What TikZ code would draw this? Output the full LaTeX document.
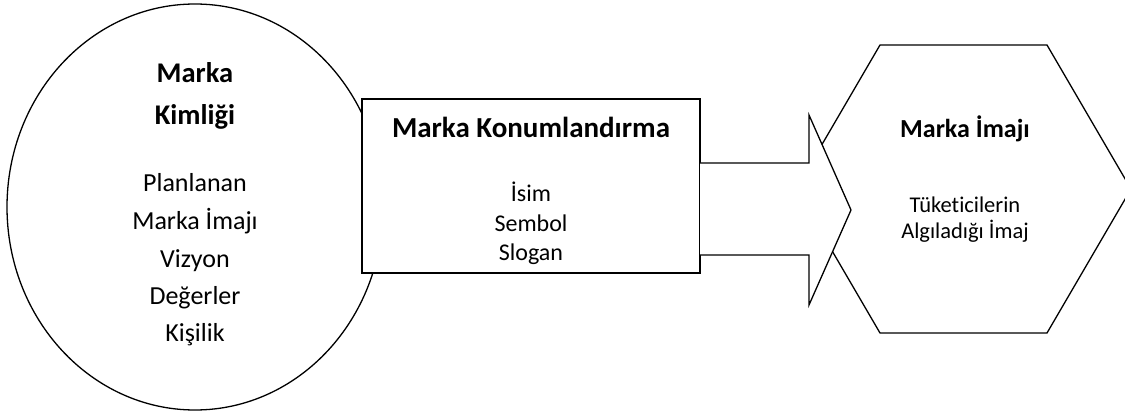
\documentclass[tikz,border=0pt]{standalone}
\usepackage{fontspec}
\setmainfont{Carlito}[Ligatures={NoCommon}]
\usetikzlibrary{shapes.geometric}
\begin{document}
\begin{tikzpicture}[x=1pt,y=-1pt,line width=1.3pt,
  shapebox/.style={draw=black,fill=white,line width=1.3pt},
  txt/.style={anchor=base,inner sep=0pt},
  ttl/.style={txt,font=\bfseries\fontsize{29}{31}\selectfont},
  bodyA/.style={txt,font=\fontsize{26}{28}\selectfont},
  bodyB/.style={txt,font=\fontsize{24}{26}\selectfont},
  bodyC/.style={txt,font=\fontsize{22.5}{24}\selectfont}]
\useasboundingbox (0,0) rectangle (1125,417);
% identity ellipse
\node[shapebox,ellipse,minimum width=376pt,minimum height=406pt,inner sep=0pt] (kimlik) at (195,207) {};
% image hexagon
\coordinate (hl) at (796,189);
\coordinate (ht1) at (880,45);
\coordinate (ht2) at (1047,45);
\coordinate (hr) at (1131,189);
\coordinate (hb2) at (1047,333);
\coordinate (hb1) at (880,333);
\draw[shapebox] (hl) -- (ht1) -- (ht2) -- (hr) -- (hb2) -- (hb1) -- cycle;
% positioning rectangle
\node[shapebox,rectangle,minimum width=338pt,minimum height=174pt,inner sep=0pt] (konum) at (531,186) {};
% block arrow
\coordinate (a1) at (700,163);
\coordinate (a2) at (809,163);
\coordinate (a3) at (809,115);
\coordinate (tip) at (851,210);
\coordinate (a5) at (809,305);
\coordinate (a6) at (809,255);
\coordinate (a7) at (700,255);
\fill[white] (a1) -- (a2) -- (a3) -- (tip) -- (a5) -- (a6) -- (a7) -- cycle;
\draw[line width=1.3pt,line join=miter] (a1) -- (a2) -- (a3) -- (tip) -- (a5) -- (a6) -- (a7);
% texts: identity
\node[ttl,font=\bfseries\fontsize{28.5}{30}\selectfont] (k1) at (195,83) {Marka};
\node[ttl,font=\bfseries\fontsize{28.5}{30}\selectfont] (k2) at (195,125) {Kimliği};
\node[bodyA] (k3) at (195,192) {Planlanan};
\node[bodyA] (k4) at (195,229.5) {Marka İmajı};
\node[bodyA] (k5) at (195,267) {Vizyon};
\node[bodyA] (k6) at (195,304) {Değerler};
\node[bodyA] (k7) at (195,341) {Kişilik};
% texts: positioning
\node[ttl] (p1) at (531,138) {Marka Konumlandırma};
\node[bodyB] (p2) at (531,201) {İsim};
\node[bodyB] (p3) at (531,231) {Sembol};
\node[bodyB] (p4) at (531,260) {Slogan};
% texts: image
\node[ttl,font=\bfseries\fontsize{26}{28}\selectfont] (i1) at (965,138) {Marka İmajı};
\node[bodyC] (i2) at (965,212) {Tüketicilerin};
\node[bodyC] (i3) at (965,238) {Algıladığı İmaj};
\end{tikzpicture}
\end{document}
